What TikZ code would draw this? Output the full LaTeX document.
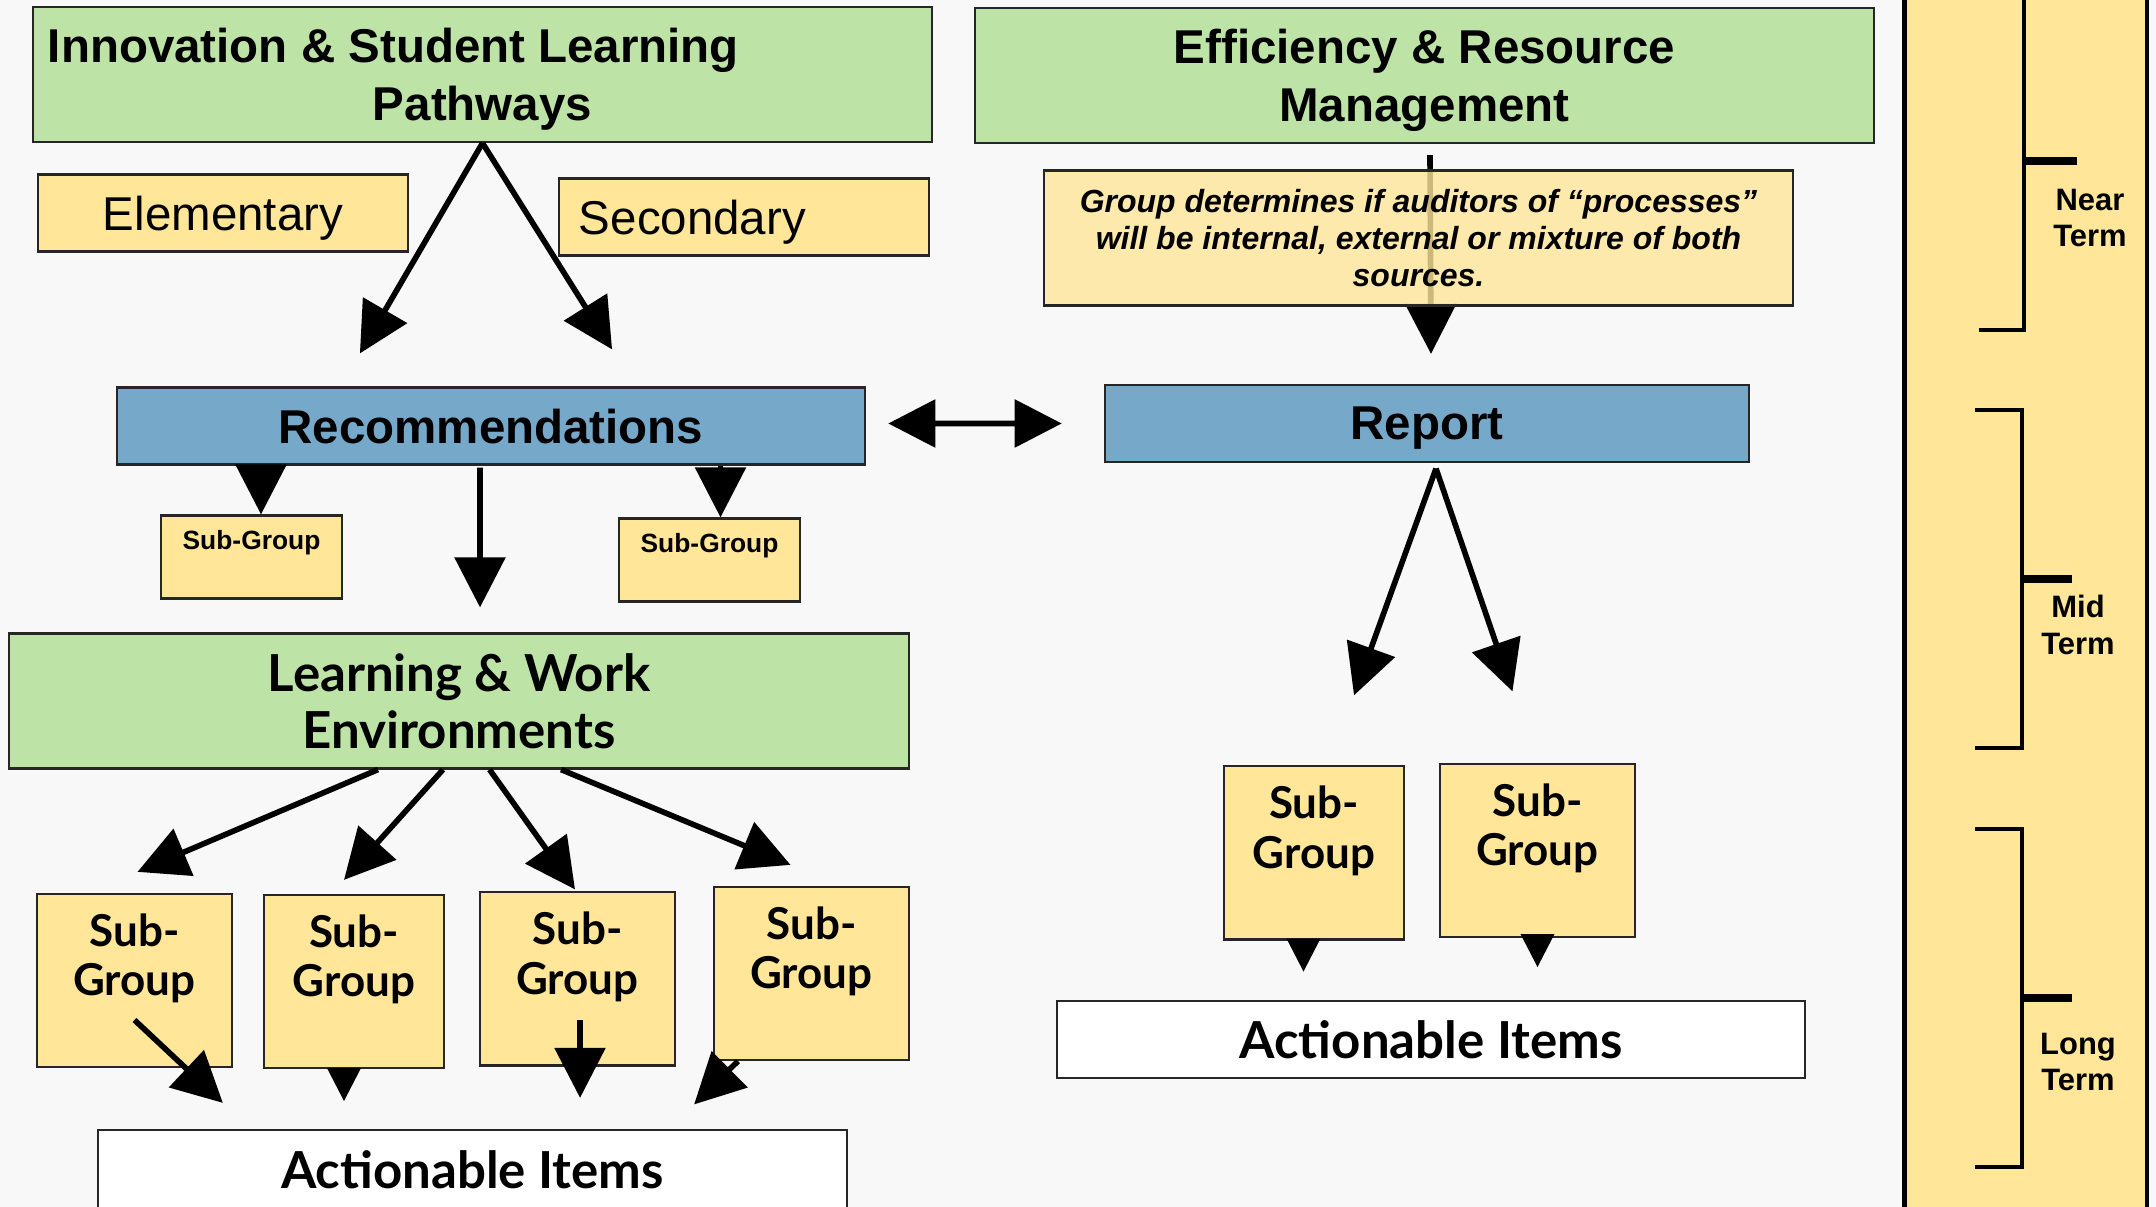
\documentclass[tikz,border=0pt]{standalone}
\usepackage{fontspec}
\setmainfont{Liberation Sans}
\newfontfamily\gillfont{Lato}
\usetikzlibrary{arrows.meta}
\definecolor{boxgreen}{RGB}{189,228,166}
\definecolor{boxyellow}{RGB}{255,230,153}
\definecolor{boxblue}{RGB}{118,169,201}
\definecolor{pagegrey}{RGB}{248,248,248}
\newcommand{\subgrouptext}{\parbox[b]{1.8cm}{\centering Sub-\\Group}}

\begin{document}
\begin{tikzpicture}[x=0.01cm, y=-0.01cm,
    box/.style={draw=black!85, line width=0.6pt, inner sep=0pt},
    goal box/.style={box, fill=boxgreen, minimum width=8.99cm, minimum height=1.35cm, align=center,
      text depth=0pt, font=\fontsize{13.5}{16.4}\selectfont\bfseries},
    level box/.style={box, fill=boxyellow, minimum width=3.70cm, minimum height=0.77cm,
      text depth=0pt, font=\fontsize{13.5}{16}\selectfont},
    note box/.style={box, fill=boxyellow, fill opacity=0.8, text opacity=1, minimum width=7.49cm,
      minimum height=1.35cm, align=center, font=\fontsize{9.1}{10.6}\selectfont\bfseries\itshape},
    result box/.style={box, fill=boxblue, minimum width=7.48cm, minimum height=0.77cm,
      text depth=0pt, font=\fontsize{13.5}{16}\selectfont\bfseries},
    small sub/.style={box, fill=boxyellow, minimum width=1.81cm, minimum height=0.83cm,
      text height=6pt, text depth=10.2pt, font=\fontsize{7.5}{9}\selectfont\bfseries},
    sub box/.style={box, fill=boxyellow, minimum width=1.95cm, minimum height=1.73cm,
      text height=24pt, text depth=15.2pt, font=\gillfont\fontsize{12.5}{14.1}\selectfont\bfseries},
    action box/.style={box, fill=white, minimum width=7.48cm, minimum height=0.77cm,
      font=\gillfont\fontsize{14.5}{16.4}\selectfont\bfseries},
    big arrow/.style={line width=1.6pt, -{Triangle[length=0.5cm,width=0.5cm]}},
    stub arrow/.style={line width=1pt, -{Triangle[length=0.33cm,width=0.33cm]}},
    term bracket/.style={line width=1pt},
    term tick/.style={line width=2pt},
    term label/.style={align=center, font=\fontsize{8.8}{10.5}\selectfont\bfseries}]

    \useasboundingbox (0,0) rectangle (2156,1207);
    \fill[pagegrey] (0,0) rectangle (2156,1207);

    \draw[line width=1.4pt, fill=boxyellow] (1904.5,-10) rectangle (2147,1220);
    \draw[term bracket] (1979,330) -- (2024,330) -- (2024,-10);
    \draw[term tick] (2024,161) -- (2077,161);
    \draw[term bracket] (1975,410) -- (2022,410) -- (2022,748) -- (1975,748);
    \draw[term tick] (2022,579) -- (2072,579);
    \draw[term bracket] (1975,829) -- (2022,829) -- (2022,1167) -- (1975,1167);
    \draw[term tick] (2022,998) -- (2072,998);
    \node[term label] (near) at (2090,218) {Near\\Term};
    \node[term label] (mid) at (2078,625) {Mid\\Term};
    \node[term label] (long) at (2078,1062) {Long\\Term};

    \node[goal box] (innov) at (482.5,74.5) {Innovation \& Student Learning\hspace*{1.78cm}\\Pathways};
    \node[goal box] (effic) at (1424.5,75.5) {Efficiency \& Resource\\Management};
    \node[level box] (elem) at (223,213) {Elementary};
    \node[level box] (second) at (744,217) {Secondary\hspace*{1.03cm}};
    \node[result box] (recom) at (491,426) {Recommendations};
    \node[result box, minimum width=6.43cm] (report) at (1427,423.5) {Report};
    \node[small sub] (ssubA) at (251.5,557) {Sub-Group};
    \node[small sub] (ssubB) at (709.5,560) {Sub-Group};
    \node[goal box, font=\gillfont\fontsize{14.5}{16.4}\selectfont\bfseries] (learn) at (459,701)
      {Learning \& Work\\Environments};
    \node[sub box] (subA) at (134.5,980.5) {\subgrouptext};
    \node[sub box, minimum width=1.80cm] (subB) at (354,981.5) {\subgrouptext};
    \node[sub box] (subC) at (577.5,979) {\subgrouptext};
    \node[sub box] (subD) at (811.5,973.5) {\subgrouptext};
    \node[action box, minimum height=0.80cm] (actL) at (472.5,1170) {Actionable Items};
    \node[sub box, minimum width=1.80cm] (subE) at (1314,853) {\subgrouptext};
    \node[sub box] (subF) at (1537.5,850.5) {\subgrouptext};
    \node[action box] (actR) at (1431,1039.5) {Actionable Items};

    \draw[big arrow] ([xshift=0.055cm,yshift=-0.11cm]effic.south) -- ([xshift=0.04cm,yshift=0.30cm]report.north);
    \node[note box] (audit) at (1418.5,238)
      {Group determines if auditors of ``processes''\\will be internal, external or mixture of both\\sources.};

    \path[big arrow]
    (innov.south) edge ([xshift=-1.31cm,yshift=0.33cm]recom.north)
    (innov.south) edge ([xshift=1.21cm,yshift=0.37cm]recom.north)
    ([xshift=0.22cm,yshift=0.025cm]recom.east) edge[{Triangle[length=0.47cm,width=0.47cm]}-{Triangle[length=0.47cm,width=0.47cm]}] ([xshift=-0.425cm]report.west)
    ([xshift=0.095cm]ssubA.north |- recom.south) edge ([xshift=0.095cm]ssubA.north)
    ([xshift=0.11cm]ssubB.north |- recom.south) edge ([xshift=0.11cm]ssubB.north)
    ([xshift=-0.11cm,yshift=-0.02cm]recom.south) edge ([xshift=0.21cm,yshift=0.25cm]learn.north)
    ([xshift=-0.81cm]learn.south) edge ([xshift=0.03cm,yshift=0.21cm]subA.north)
    ([xshift=-0.16cm]learn.south) edge ([xshift=-0.10cm,yshift=0.14cm]subB.north)
    ([xshift=0.305cm]learn.south) edge ([xshift=-0.025cm,yshift=0.02cm]subC.north)
    ([xshift=1.02cm]learn.south) edge ([xshift=-0.21cm,yshift=0.21cm]subD.north)
    ([yshift=-0.395cm]subA.center) edge ([xshift=-2.495cm,yshift=0.26cm]actL.north)
    ([xshift=0.025cm,yshift=-0.41cm]subC.center) edge ([xshift=1.075cm,yshift=0.31cm]actL.north)
    ([xshift=-0.735cm]subD.south) edge ([xshift=2.215cm,yshift=0.245cm]actL.north)
    ([xshift=0.09cm,yshift=-0.055cm]report.south) edge ([xshift=0.40cm,yshift=0.70cm]subE.north)
    ([xshift=0.09cm,yshift=-0.055cm]report.south) edge ([xshift=-0.25cm,yshift=0.715cm]subF.north);

    \path[stub arrow]
    ([xshift=-0.10cm]subB.south) edge ([xshift=-0.10cm,yshift=-0.32cm]subB.south)
    ([xshift=-0.105cm]subE.south) edge ([xshift=-0.105cm,yshift=-0.31cm]subE.south)
    (subF.south) edge ([yshift=-0.29cm]subF.south);
  \end{tikzpicture}
\end{document}
